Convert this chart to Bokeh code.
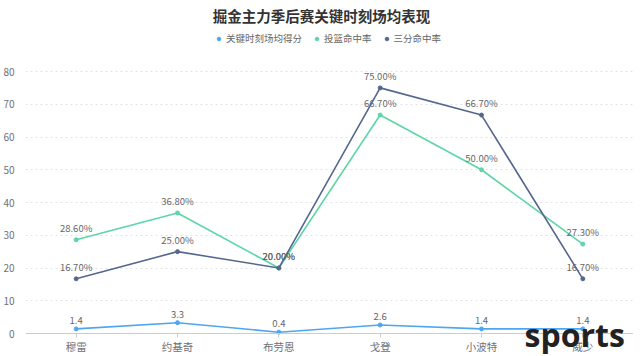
from bokeh.plotting import figure
from bokeh.models import (FactorRange, Range1d, Legend, LegendItem, Label,
                          ColumnDataSource, FixedTicker)
from bokeh.core.properties import value
from bokeh.embed import file_html
from bokeh.resources import INLINE

players = ["穆雷", "约基奇", "布劳恩", "戈登", "小波特", "威少"]
clutch_pts = [1.4, 3.3, 0.4, 2.6, 1.4, 1.4]
fg_pct = [28.6, 36.8, 20.0, 66.7, 50.0, 27.3]
three_pct = [16.7, 25.0, 20.0, 75.0, 66.7, 16.7]
series_names = ["关键时刻场均得分", "投篮命中率", "三分命中率"]
y_ticks = [0, 10, 20, 30, 40, 50, 60, 70, 80]
title_text = "掘金主力季后赛关键时刻场均表现"
watermark = "sports"

colors = ["#4ea6f2", "#5cd6a6", "#56678f"]
FONT = "Noto Sans CJK SC"

# frame spans whole height; value axis 0..80 occupies 262px of it
PX_PER_UNIT = 262 / 80
FRAME_H = 354
ZERO_FROM_BOTTOM = 21
y_lo = -ZERO_FROM_BOTTOM / PX_PER_UNIT
y_hi = (FRAME_H - ZERO_FROM_BOTTOM) / PX_PER_UNIT

p = figure(x_range=FactorRange(*players), y_range=Range1d(y_lo, y_hi),
           frame_width=608, frame_height=FRAME_H, output_backend="svg",
           toolbar_location=None, min_border_left=16, min_border_right=0,
           min_border_top=0, min_border_bottom=0, outline_line_color=None)

# axes
p.yaxis.ticker = FixedTicker(ticks=y_ticks)
p.yaxis.axis_line_color = None
p.yaxis.major_tick_line_color = None
p.yaxis.minor_tick_line_color = None
p.yaxis.major_label_text_color = "#6e7079"
p.yaxis.major_label_text_font_size = "10px"
p.yaxis.major_label_text_font = FONT
p.yaxis.major_label_standoff = 5

p.xaxis.fixed_location = 0
p.xaxis.axis_line_color = "#cccccc"
p.xaxis.major_tick_line_color = "#cccccc"
p.xaxis.major_tick_in = 0
p.xaxis.major_tick_out = 4
p.xaxis.major_label_text_color = "#6e7079"
p.xaxis.major_label_text_font_size = "10.5px"
p.xaxis.major_label_text_font = FONT
p.xaxis.major_label_standoff = 1

p.xgrid.grid_line_color = None
p.ygrid.ticker = FixedTicker(ticks=y_ticks[1:])
p.ygrid.grid_line_color = "#e0e3ea"
p.ygrid.grid_line_dash = "2 3"

fmt_pts = [f"{v:.1f}" for v in clutch_pts]
fmt_fg = [f"{v:.2f}%" for v in fg_pct]
fmt_3p = [f"{v:.2f}%" for v in three_pct]

items = []
for name, vals, labels, col in zip(series_names, [clutch_pts, fg_pct, three_pct],
                                   [fmt_pts, fmt_fg, fmt_3p], colors):
    src = ColumnDataSource(dict(x=players, y=vals, t=labels))
    p.line("x", "y", source=src, line_color=col, line_width=1.6)
    p.scatter("x", "y", source=src, size=4, fill_color=col, line_color=col)
    p.text("x", "y", text="t", source=src, y_offset=-5, text_align="center",
           text_baseline="bottom", text_font_size="9.5px", text_color="#666666",
           text_font=value(FONT))
    leg_r = p.scatter([players[0]], [-100], size=7, fill_color=col, line_color=col)
    items.append(LegendItem(label=name, renderers=[leg_r]))

legend = Legend(items=items, orientation="horizontal", location=(189, 309),
                border_line_color=None, background_fill_alpha=0,
                label_text_font_size="9.5px", label_text_color="#666666",
                label_text_font=FONT, glyph_width=9, glyph_height=9,
                label_height=12, label_standoff=3, spacing=10, padding=2, margin=0)
p.add_layout(legend)

p.add_layout(Label(x=296, y=339, x_units="screen", y_units="screen", text=title_text,
                   text_font=FONT, text_font_size="14.5px", text_font_style="bold",
                   text_color="#333333", text_align="center", text_baseline="middle"))

p.add_layout(Label(x=499, y=20, x_units="screen", y_units="screen", text=watermark,
                   text_font="Open Sans", text_font_size="32px", text_font_style="bold",
                   text_color="#222222", text_align="left", text_baseline="alphabetic"))

open("out.html", "w").write(file_html(p, INLINE))
